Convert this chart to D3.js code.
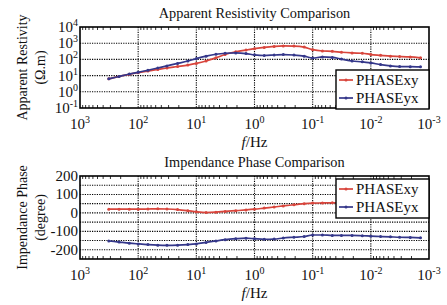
<!DOCTYPE html>
<html><head><meta charset="utf-8">
<script src="https://cdn.jsdelivr.net/npm/d3@7"></script>
<style>body{margin:0;background:#fff}svg{display:block}text{font-family:"Liberation Serif","Times New Roman",serif;fill:#111}</style>
</head><body><svg id="c" width="447" height="305" font-family="Liberation Serif, serif"></svg>
<script>
const freqs = [320,213,142,100,68,46,32,21,14,10,6.8,4.6,3.2,2.1,1.4,1.0,0.68,0.46,0.32,0.21,0.14,0.10,0.068,0.046,0.032,0.021,0.014,0.010,0.0068,0.0046,0.0032,0.0021,0.0014];
const rhoXYlog = [0.8,0.95,1.08,1.18,1.28,1.38,1.47,1.56,1.65,1.75,1.9,2.1,2.3,2.47,2.58,2.66,2.74,2.8,2.83,2.82,2.76,2.6,2.52,2.5,2.44,2.4,2.38,2.3,2.25,2.2,2.18,2.15,2.1];
const rhoYXlog = [0.8,0.95,1.1,1.2,1.33,1.47,1.6,1.75,1.9,2.05,2.2,2.32,2.38,2.4,2.36,2.28,2.24,2.27,2.3,2.27,2.2,2.08,2.15,2.12,2.02,1.9,1.85,1.78,1.68,1.6,1.56,1.55,1.54];
const phaseXY = [20,20,20,20,21,22,21,18,12,6,2,4,8,12,16,20,26,32,38,44,50,53,54,55,55,55,55,55,55,55,55,55,55];
const phaseYX = [-152,-158,-164,-168,-172,-175,-176,-175,-172,-168,-160,-152,-145,-140,-137,-140,-143,-142,-136,-132,-128,-120,-120,-122,-122,-122,-124,-126,-128,-130,-132,-133,-135];
const xTickExp = [3,2,1,0,-1,-2,-3];
const rhoTickExp = [4,3,2,1,0,-1];
const phaseTicks = [200,100,0,-100,-200];
const phaseGrid = [150,100,50,0,-50,-100,-150,-200];
const seriesNames = ["PHASExy","PHASEyx"];
const colors = ["#d8453c","#34378a"];

const svg = d3.select("#c");
const L = 80, R = 429;
const x = d3.scaleLog().domain([1000, 0.001]).range([L, R]);

function sup(sel, base, exp){
  sel.text(null);
  sel.append("tspan").text(base);
  sel.append("tspan").attr("dy", -6).attr("font-size", "10px").text(exp);
}

function panel(top, bottom, y, ticks, gridVals, titleText, yl1, yl2, s1, s2, legendY, isLog){
  const g = svg.append("g");
  g.selectAll(".vg").data(xTickExp.slice(1,-1)).enter().append("line")
    .attr("x1", d=>x(Math.pow(10,d))).attr("x2", d=>x(Math.pow(10,d)))
    .attr("y1", top).attr("y2", bottom)
    .attr("stroke","#000").attr("stroke-width",1.1).attr("stroke-dasharray","1.2,1.2");
  g.selectAll(".hg").data(gridVals).enter().append("line")
    .attr("x1", L).attr("x2", R).attr("y1", d=>y(d)).attr("y2", d=>y(d))
    .attr("stroke","#000").attr("stroke-width",1.1).attr("stroke-dasharray","1.2,1.2");
  const minors = [];
  for (let e = -3; e < 3; e++) for (let k = 2; k <= 9; k++) minors.push(k*Math.pow(10,e));
  g.selectAll(".mx").data(minors).enter().append("line")
    .attr("x1", d=>x(d)).attr("x2", d=>x(d)).attr("y1", bottom).attr("y2", bottom-3)
    .attr("stroke","#000").attr("stroke-width",0.8);
  g.selectAll(".mxt").data(minors).enter().append("line")
    .attr("x1", d=>x(d)).attr("x2", d=>x(d)).attr("y1", top).attr("y2", top+3)
    .attr("stroke","#000").attr("stroke-width",0.8);
  g.selectAll(".xl").data(xTickExp).enter().append("text")
    .attr("x", d=>x(Math.pow(10,d))).attr("y", bottom+21)
    .attr("text-anchor","middle").attr("font-size","15px")
    .each(function(d){ sup(d3.select(this), "10", String(d)); });
  g.append("text").attr("x", (L+R)/2).attr("y", bottom+39).attr("text-anchor","middle").attr("font-size","15px")
    .html('<tspan font-style="italic">f</tspan>/Hz');
  g.selectAll(".yl").data(ticks).enter().append("text")
    .attr("x", L-2).attr("y", d=>y(d)+5).attr("text-anchor","end").attr("font-size","15px")
    .each(function(d){ if (isLog) sup(d3.select(this), "10", String(Math.round(Math.log10(d)))); else d3.select(this).text(d); });
  g.append("text").attr("x", (L+R)/2).attr("y", top-9).attr("text-anchor","middle").attr("font-size","14.3px").text(titleText);
  const cy = (top+bottom)/2;
  g.append("text").attr("transform",`translate(27,${cy}) rotate(-90)`).attr("text-anchor","middle").attr("font-size","14px").text(yl1);
  g.append("text").attr("transform",`translate(45,${cy}) rotate(-90)`).attr("text-anchor","middle").attr("font-size","14px").text(yl2);
  const clip = "clip"+top;
  svg.append("clipPath").attr("id",clip).append("rect").attr("x",L).attr("y",top).attr("width",R-L).attr("height",bottom-top);
  [s1,s2].forEach((s,i)=>{
    const line = d3.line().curve(d3.curveMonotoneX).x((d,j)=>x(freqs[j])).y(d=>y(d));
    const sg = g.append("g").attr("clip-path",`url(#${clip})`);
    sg.append("path").attr("d", line(s)).attr("fill","none").attr("stroke",colors[i]).attr("stroke-width",1.7);
    sg.selectAll("circle").data(s).enter().append("circle")
      .attr("cx",(d,j)=>x(freqs[j])).attr("cy",d=>y(d)).attr("r",1.5).attr("fill",colors[i]);
  });
  g.append("rect").attr("x",L).attr("y",top).attr("width",R-L).attr("height",bottom-top)
    .attr("fill","none").attr("stroke","#000").attr("stroke-width",1.6);
  const lg = g.append("g");
  lg.append("rect").attr("x",336).attr("y",legendY).attr("width",R-336).attr("height",39)
    .attr("fill","#fff").attr("stroke","#000").attr("stroke-width",1.4);
  seriesNames.forEach((n,i)=>{
    const yy = legendY + 10 + i*18;
    lg.append("line").attr("x1",339).attr("x2",353).attr("y1",yy).attr("y2",yy).attr("stroke",colors[i]).attr("stroke-width",1.7);
    lg.append("circle").attr("cx",346).attr("cy",yy).attr("r",1.5).attr("fill",colors[i]);
    lg.append("text").attr("x",356).attr("y",yy+5).attr("font-size","15px").text(n);
  });
}

const y1 = d3.scaleLog().domain([0.1, 10000]).range([108, 27]);
const rhoTicks = rhoTickExp.map(e=>Math.pow(10,e));
panel(27,108,y1,rhoTicks,rhoTicks.slice(1,-1),"Apparent Resistivity Comparison","Apparent Restivity","(Ω.m)",
  rhoXYlog.map(v=>Math.pow(10,v)), rhoYXlog.map(v=>Math.pow(10,v)), 70, true);

const y2 = d3.scaleLinear().domain([-250, 200]).range([259, 176]);
panel(176,259,y2,phaseTicks,phaseGrid,"Impendance Phase Comparison","Impendance Phase","(degree)",
  phaseXY, phaseYX, 179, false);
</script></body></html>
